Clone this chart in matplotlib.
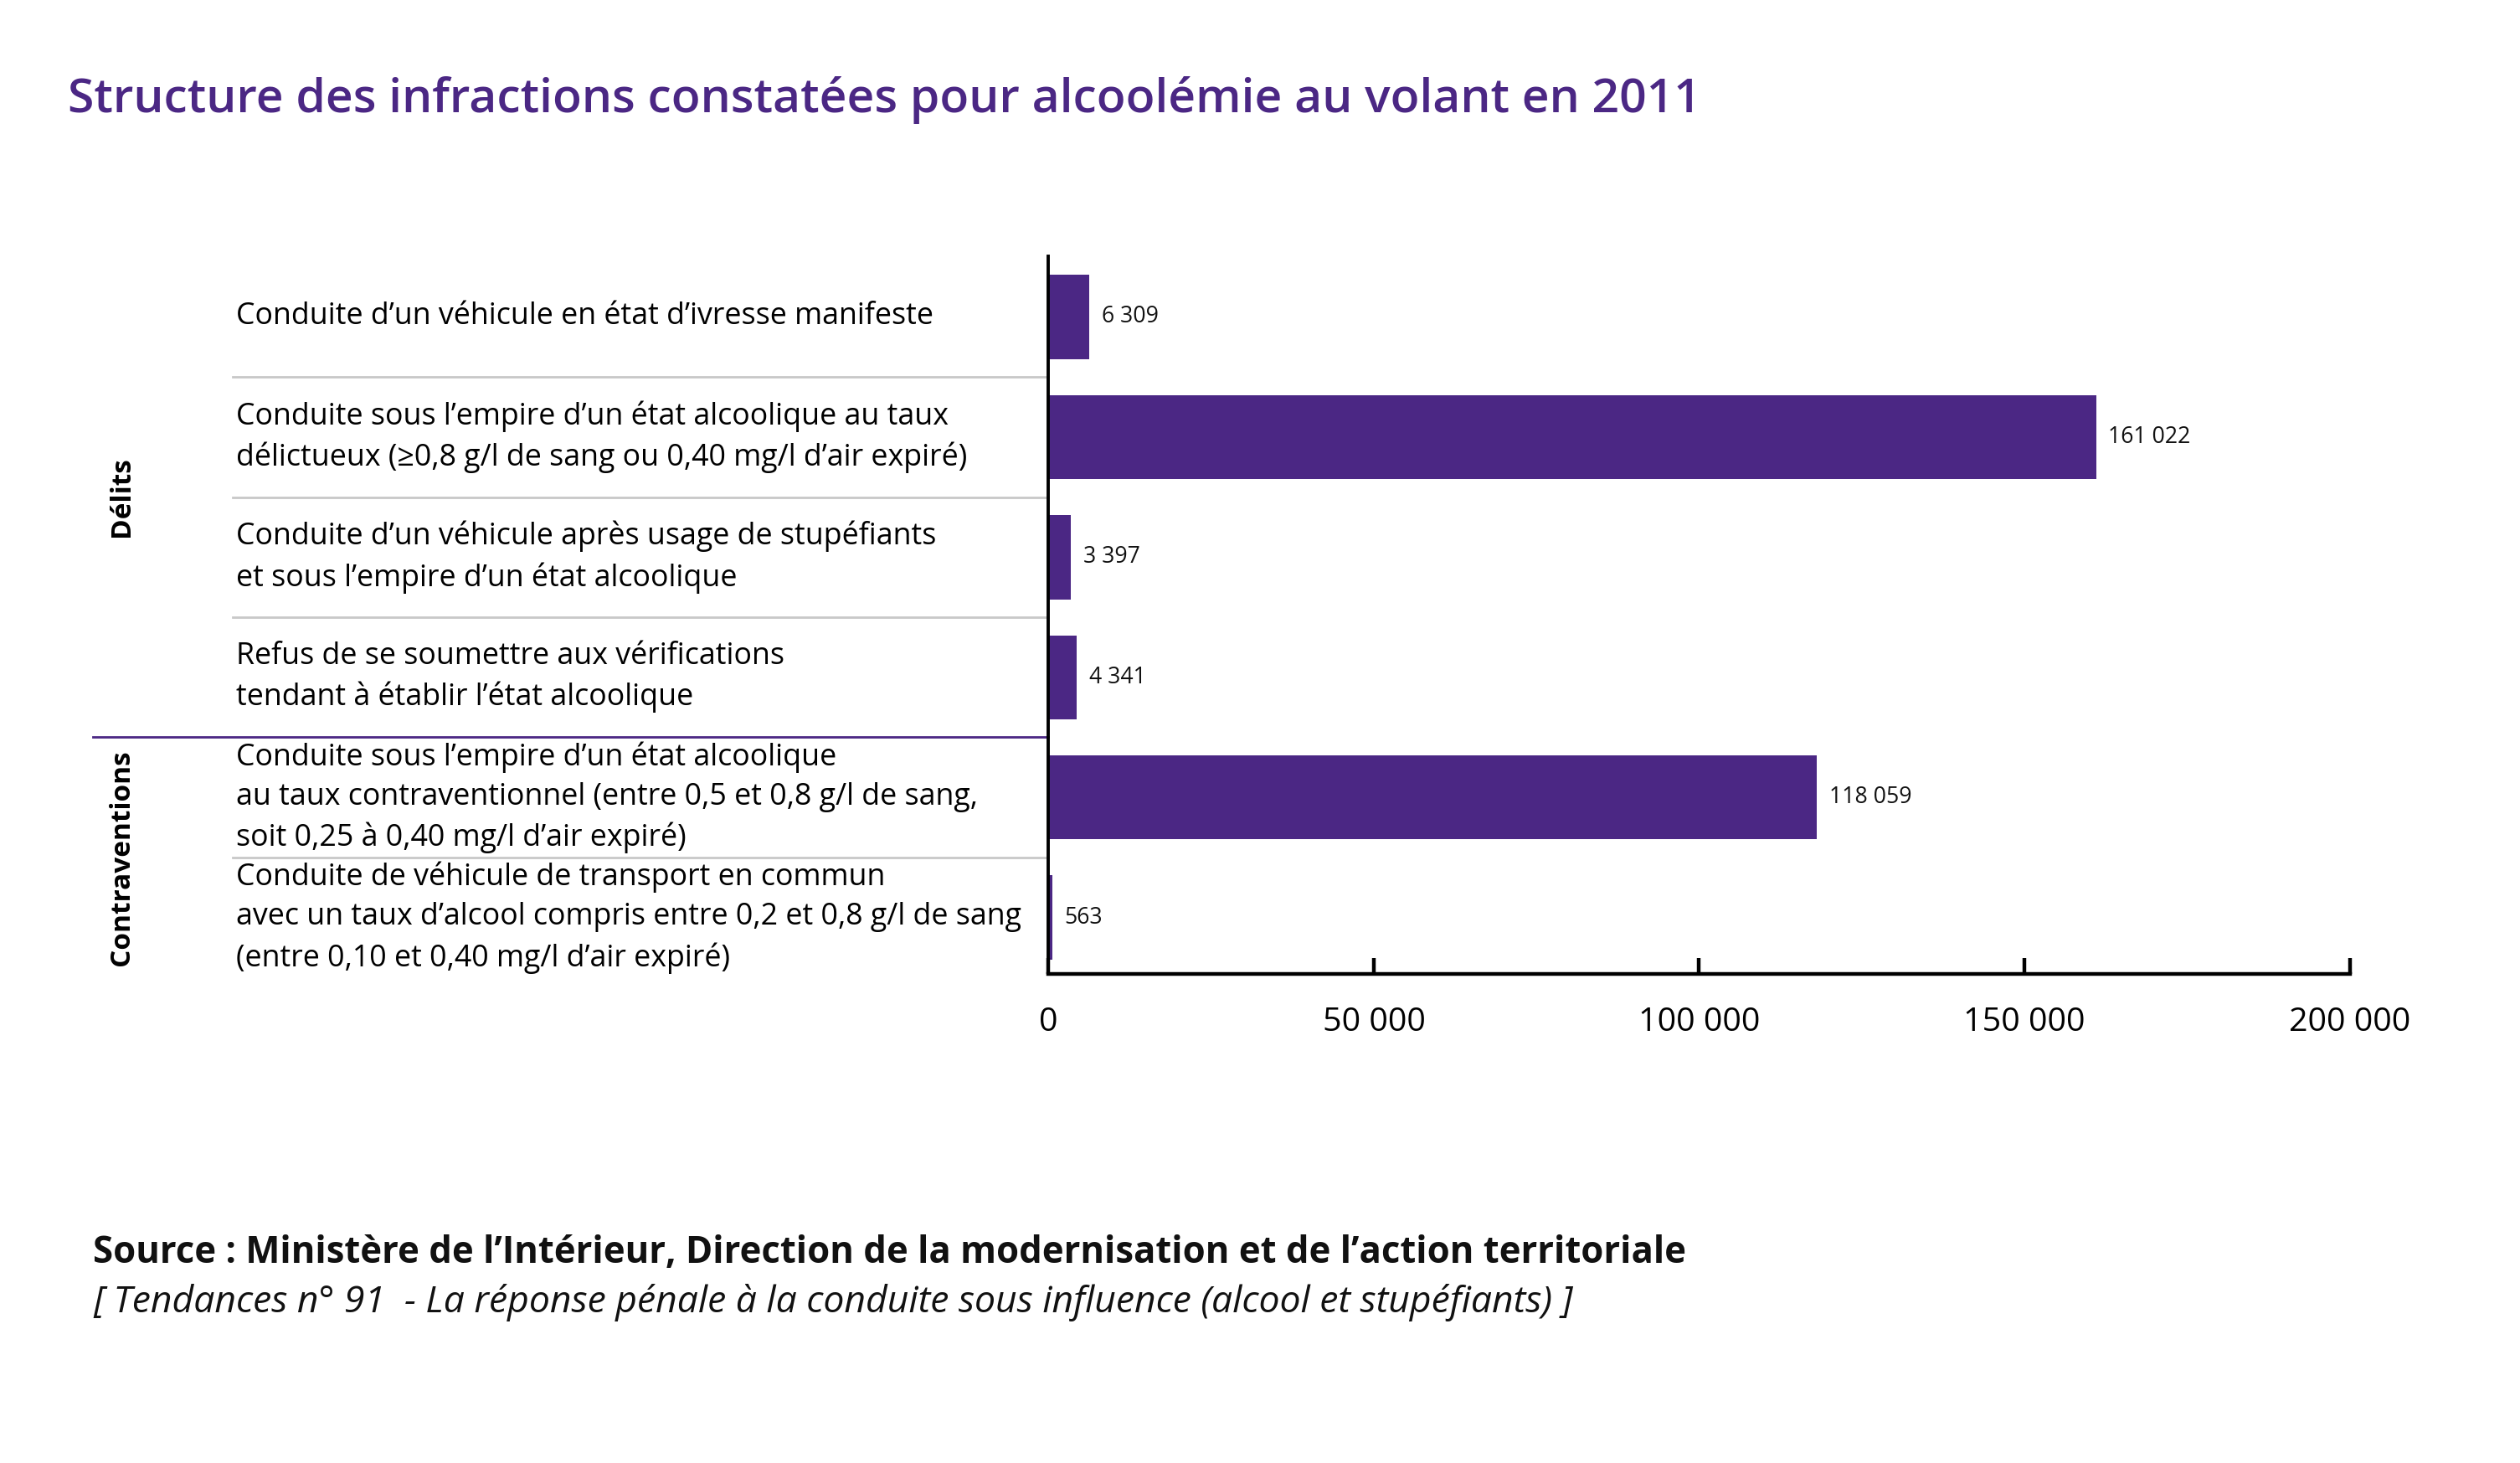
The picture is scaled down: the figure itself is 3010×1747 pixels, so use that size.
import matplotlib.pyplot as plt
import matplotlib.transforms as mtransforms

plt.rcParams['font.family'] = ['Open Sans', 'DejaVu Sans']

categories = [
    "Conduite d\u2019un véhicule en état d\u2019ivresse manifeste",
    "Conduite sous l\u2019empire d\u2019un état alcoolique au taux\ndélictueux (\u22650,8 g/l de sang ou 0,40 mg/l d\u2019air expiré)",
    "Conduite d\u2019un véhicule après usage de stupéfiants\net sous l\u2019empire d\u2019un état alcoolique",
    "Refus de se soumettre aux vérifications\ntendant à établir l\u2019état alcoolique",
    "Conduite sous l\u2019empire d\u2019un état alcoolique\nau taux contraventionnel (entre 0,5 et 0,8 g/l de sang,\nsoit 0,25 à 0,40 mg/l d\u2019air expiré)",
    "Conduite de véhicule de transport en commun\navec un taux d\u2019alcool compris entre 0,2 et 0,8 g/l de sang\n(entre 0,10 et 0,40 mg/l d\u2019air expiré)",
]
valeurs = [6309, 161022, 3397, 4341, 118059, 563]
groupes = ["Délits", "Contraventions"]
taille_groupes = [4, 2]
xticks = [0, 50000, 100000, 150000, 200000]

violet = "#4b2784"

fig = plt.figure(figsize=(15.05, 8.735), dpi=200)
ax = fig.add_axes([0.4161, 0.3345, 0.5163, 0.4905])

y = list(range(len(valeurs)))
ax.barh(y, valeurs, height=0.7, color=violet)

ax.set_ylim(len(valeurs) - 0.533, -0.507)
ax.set_xlim(0, 200000)

for i, v in enumerate(valeurs):
    txt = f"{v:,}".replace(",", " ")
    ax.text(v + 1900, i, txt, va="center", ha="left", fontsize=9.6, color="#111111")

ax.set_xticks(xticks)
ax.set_xticklabels([f"{t:,}".replace(",", " ") for t in xticks], fontsize=14.2)
ax.set_yticks([])
ax.tick_params(axis="x", direction="in", length=7, width=1.6, pad=14)
ax.spines["top"].set_visible(False)
ax.spines["right"].set_visible(False)
ax.spines["left"].set_linewidth(1.4)
ax.spines["bottom"].set_linewidth(1.6)

# libellés et séparateurs à gauche de l'axe
blend = mtransforms.blended_transform_factory(fig.transFigure, ax.transData)
for i, lab in enumerate(categories):
    ax.text(0.0938, i, lab, transform=blend, va="center", ha="left",
            fontsize=12.9, linespacing=1.42, clip_on=False)

fin_delits = taille_groupes[0] - 0.5
for i in range(len(valeurs) - 1):
    yy = i + 0.5
    if yy == fin_delits:
        ax.plot([0.037, 0.4161], [yy, yy], transform=blend, color=violet,
                lw=1.0, clip_on=False)
    else:
        ax.plot([0.0925, 0.4161], [yy, yy], transform=blend, color="#c8c8c8",
                lw=1.0, clip_on=False)

debut = 0
for g, n in zip(groupes, taille_groupes):
    centre = debut + (n - 1) / 2
    ax.text(0.0485, centre, g, transform=blend, rotation=90, va="center",
            ha="center", fontsize=12, fontweight="bold", clip_on=False)
    debut += n

fig.text(0.0268, 0.9318, "Structure des infractions constatées pour alcoolémie au volant en 2011",
         color=violet, fontsize=20.5, fontweight="semibold", va="center", ha="left")

fig.text(0.037, 0.1435,
         "Source : Ministère de l\u2019Intérieur, Direction de la modernisation et de l\u2019action territoriale",
         fontsize=15.7, fontweight="bold", va="center", ha="left", color="#111111")
fig.text(0.037, 0.1095,
         "[ Tendances n° 91  - La réponse pénale à la conduite sous influence (alcool et stupéfiants) ]",
         fontsize=16, fontstyle="italic", va="center", ha="left", color="#111111")

fig.savefig("out.png", dpi=200, facecolor="white")
